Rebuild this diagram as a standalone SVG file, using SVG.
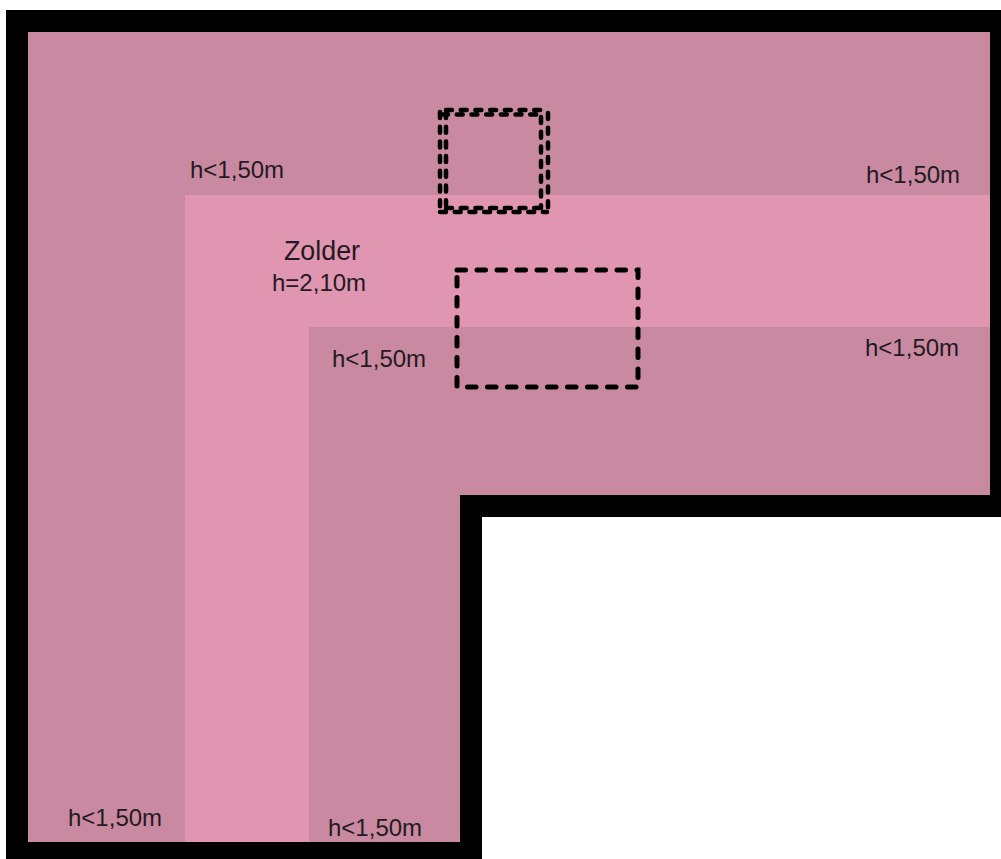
<svg xmlns="http://www.w3.org/2000/svg" width="1001" height="859" viewBox="0 0 1001 859">
<style>
text{font-family:"Liberation Sans",Arial,sans-serif;font-size:24px;fill:#241a20}
.d{fill:none;stroke:#000;stroke-linecap:round}
.a{stroke-width:4.500;stroke-dasharray:6 8.700}
</style>
<rect width="1001" height="859" fill="#fff"/>
<path id="wall" d="M6 10H1001V517H482V859H6Z" fill="#000"/>
<path id="low" d="M28 32H990V495H460V842H28Z" fill="#c98aa1"/>
<path id="zolder" d="M185 195H990V327H309V842H185Z" fill="#e095b1"/>
<g id="openings">
<path class="d a" d="M440 112V212M446 112V205M548 113V210M541 117V208"/>
<path class="d a" d="M440 212H547M446 208H541M446 110H547M442 114.500H541"/>
<rect class="d" x="457" y="270" width="181" height="117" stroke-width="5" stroke-dasharray="8.500 11.500"/>
</g>
<g id="labels">
<text x="190" y="178">h&lt;1,50m</text>
<text x="866" y="183">h&lt;1,50m</text>
<text x="284" y="260" style="font-size:26.800px">Zolder</text>
<text x="272" y="291">h=2,10m</text>
<text x="332" y="367">h&lt;1,50m</text>
<text x="865" y="356">h&lt;1,50m</text>
<text x="68" y="826">h&lt;1,50m</text>
<text x="328" y="836">h&lt;1,50m</text>
</g>
</svg>
